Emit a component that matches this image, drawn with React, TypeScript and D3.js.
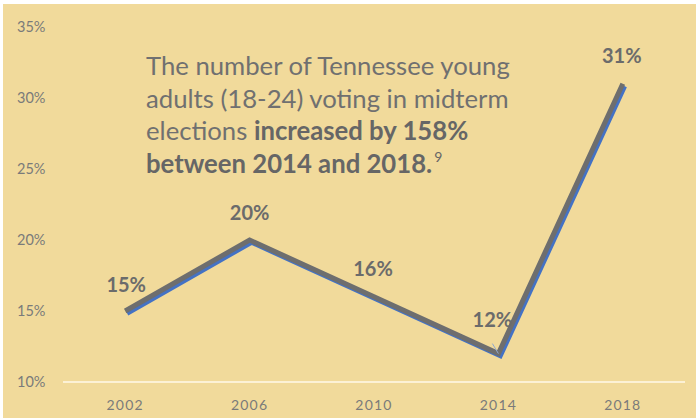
import React from "react";
import * as d3 from "d3";

const years = ["2002", "2006", "2010", "2014", "2018"];
const values = [15, 20, 16, 12, 31];
const labels = ["15%", "20%", "16%", "12%", "31%"];
const yTicks = [10, 15, 20, 25, 30, 35];

const W = 696;
const H = 418;

export default function App() {
  const x = d3.scaleBand<string>().domain(years).range([63, 685]);
  const y = d3.scaleLinear().domain([10, 35]).range([382, 27]);
  const cx = (d: string) => (x(d) as number) + x.bandwidth() / 2;
  const pts: [number, number][] = years.map((yr, i) => [cx(yr), y(values[i])]);
  const line = d3.line<[number, number]>().x((d) => d[0]).y((d) => d[1]);
  const path = line(pts) || "";
  const labelDy = [-19, -20, -21, -27, -21];
  const labelDx = [1, 0, -1, -6, -1];
  const font = "Lato, 'Open Sans', sans-serif";
  const p12 = pts[3];
  return (
    <svg
      width={W}
      height={H}
      style={{ position: "absolute", left: 0, top: 0, display: "block" }}
    >
      <rect x={0} y={0} width={W} height={H} fill="#ffffff" />
      <rect x={3} y={4} width={W - 3} height={H - 4} fill="#F1DA9B" />
      {yTicks.map((t) => (
        <text
          key={t}
          x={17}
          y={y(t) + 5}
          fontFamily={font}
          fontSize={14.5}
          fill="#7a7a7a"
        >
          {t + "%"}
        </text>
      ))}
      <line x1={63} x2={685} y1={382} y2={382} stroke="#FFF8E8" strokeWidth={1.5} />
      {years.map((yr) => (
        <text
          key={yr}
          x={cx(yr)}
          y={410}
          textAnchor="middle"
          fontFamily={font}
          fontSize={14}
          letterSpacing={1.2}
          fill="#7a7a7a"
        >
          {yr}
        </text>
      ))}
      <path
        d={path}
        transform="translate(2,2.5)"
        fill="none"
        stroke="#4472C4"
        strokeWidth={4.5}
        strokeLinejoin="miter"
      />
      <path
        d={path}
        fill="none"
        stroke="#6E6E6E"
        strokeWidth={5}
        strokeLinejoin="miter"
      />
      <line
        x1={p12[0] - 6}
        y1={p12[1] - 10}
        x2={p12[0]}
        y2={p12[1]}
        stroke="#8FA8D0"
        strokeWidth={1}
      />
      {pts.map((p, i) => (
        <text
          key={years[i]}
          x={p[0] + labelDx[i]}
          y={p[1] + labelDy[i]}
          textAnchor="middle"
          fontFamily={font}
          fontWeight="bold"
          fontSize={20}
          fill="#6B6B6B"
        >
          {labels[i]}
        </text>
      ))}
      <g fontFamily={font} fontSize={25.7} fill="#707070">
        <text x={146} y={75}>The number of Tennessee young</text>
        <text x={146} y={108}>adults (18-24) voting in midterm</text>
        <text x={146} y={140}>
          elections <tspan fontWeight="bold" fill="#666666">increased by 158%</tspan>
        </text>
        <text x={146} y={173} fontWeight="bold" fill="#666666">
          between 2014 and 2018.
          <tspan fontSize={14} fontWeight="normal" dx={2} dy={-11}>9</tspan>
        </text>
      </g>
    </svg>
  );
}
